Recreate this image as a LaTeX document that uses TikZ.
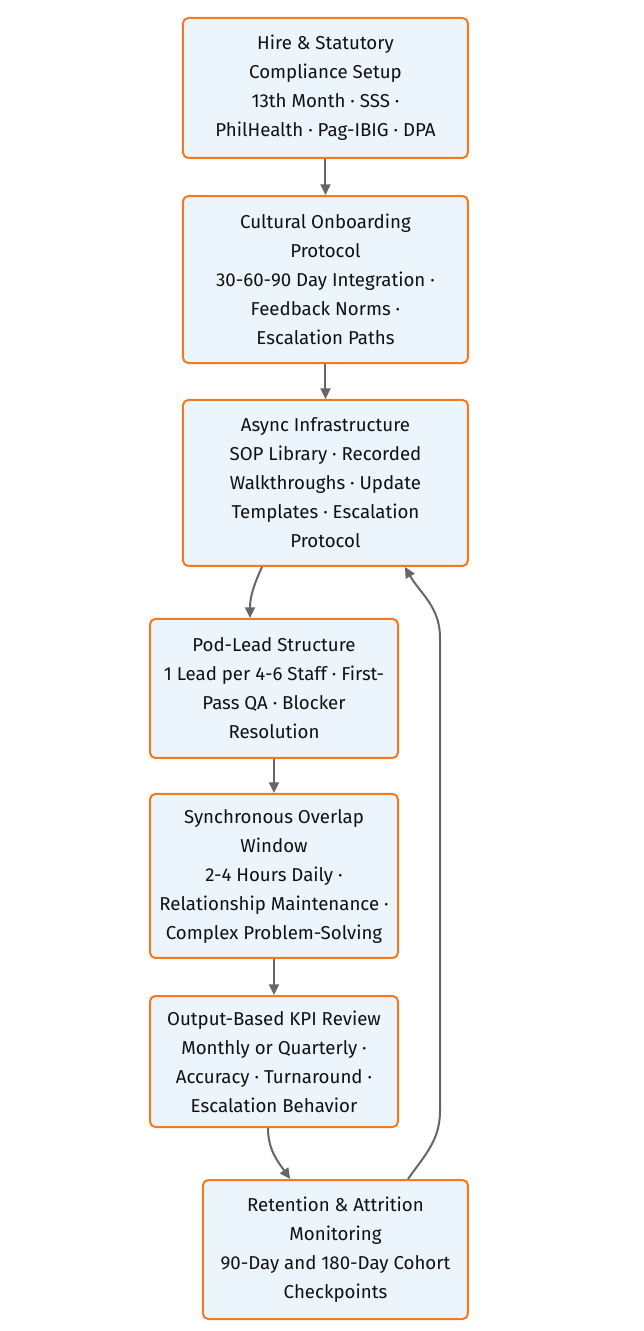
\documentclass[tikz,border=0pt]{standalone}
\usepackage{fontspec}
\setmainfont{Fira Sans}
\usetikzlibrary{arrows.meta}
\definecolor{boxfill}{HTML}{ECF4FC}
\definecolor{boxline}{HTML}{F57A1F}
\definecolor{edgecol}{HTML}{666666}
\definecolor{textcol}{HTML}{111111}
\tikzset{
  stage/.style={draw=boxline,fill=boxfill,line width=1.5pt,rounded corners=4pt,
    align=center,text=textcol,font=\fontsize{14pt}{21.75pt}\selectfont,inner sep=0pt},
  flow/.style={->,draw=edgecol,line width=1.5pt},
}
\begin{document}
\begin{tikzpicture}[>={Triangle[length=8pt,width=7.5pt]},line join=round]
\useasboundingbox (0pt,0pt) rectangle (482.25pt,998.25pt);
%%
  % Node: hire
  \node[stage,minimum width=213.75pt,minimum height=105pt] (hire) at (244.1pt,932.25pt)
    {Hire \& Statutory\\Compliance Setup\\13th Month · SSS ·\\PhilHealth · Pag-IBIG · DPA};
  % Node: onboard
  \node[stage,minimum width=213.75pt,minimum height=125.25pt] (onboard) at (244.1pt,788.6pt)
    {Cultural Onboarding\\Protocol\\30-60-90 Day Integration ·\\Feedback Norms ·\\Escalation Paths};
  % Node: async
  \node[stage,minimum width=213.75pt,minimum height=124.5pt] (async) at (244.1pt,636pt)
    {Async Infrastructure\\SOP Library · Recorded\\Walkthroughs · Update\\Templates · Escalation\\Protocol};
  % Node: podlead
  \node[stage,minimum width=186pt,minimum height=104.25pt] (podlead) at (205.5pt,481.9pt)
    {Pod-Lead Structure\\1 Lead per 4-6 Staff · First-\\Pass QA · Blocker\\Resolution};
  % Node: overlap
  \node[stage,minimum width=186pt,minimum height=123pt] (overlap) at (205.5pt,341.25pt)
    {Synchronous Overlap\\Window\\2-4 Hours Daily ·\\Relationship Maintenance ·\\Complex Problem-Solving};
  % Node: kpi
  \node[stage,minimum width=186pt,minimum height=98.25pt] (kpi) at (205.5pt,202.1pt)
    {Output-Based KPI Review\\Monthly or Quarterly ·\\Accuracy · Turnaround ·\\Escalation Behavior};
  % Node: retention
  \node[stage,minimum width=198.75pt,minimum height=104.25pt] (retention) at (251.6pt,61.1pt)
    {Retention \& Attrition\\Monitoring\\90-Day and 180-Day Cohort\\Checkpoints};
%
  % Edge: hire -> onboard
  \draw [flow] (hire) -- (onboard);
  % Edge: onboard -> async
  \draw [flow] (onboard) -- (async);
  % Edge: async -> podlead
  \draw [flow] ([xshift=-47.6pt]async.south) to[out=-115,in=90] ([xshift=-18pt]podlead.north);
  % Edge: podlead -> overlap
  \draw [flow] (podlead) -- (overlap);
  % Edge: overlap -> kpi
  \draw [flow] (overlap) -- (kpi);
  % Edge: kpi -> retention
  \draw [flow] ([xshift=-4.5pt]kpi.south) to[out=-90,in=125] ([xshift=-34pt]retention.north);
  % Edge: retention -> async
  \coordinate (rise) at (330pt,165pt);
  \coordinate (top) at (330pt,520pt);
  \draw [flow] ([xshift=54.4pt]retention.north) to[out=55,in=-90] (rise) -- (top)
    to[out=90,in=-60] ([xshift=59.6pt]async.south);
%
\end{tikzpicture}
\end{document}
